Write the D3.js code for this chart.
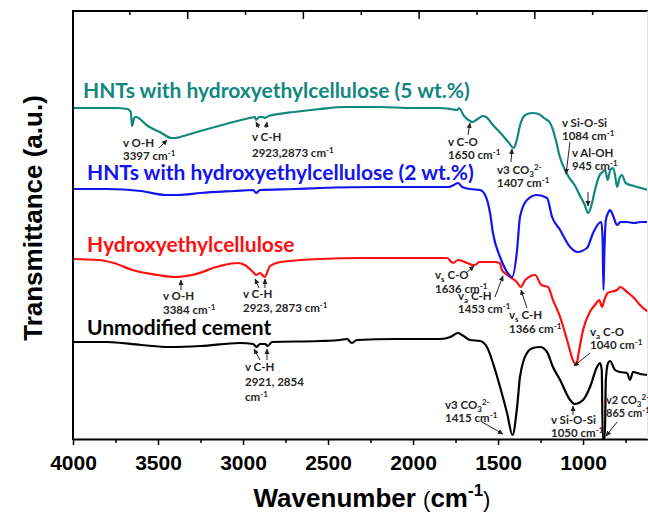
<!DOCTYPE html>
<html>
<head>
<meta charset="utf-8">
<script src="https://cdn.jsdelivr.net/npm/d3@7"></script>
<style>
body { margin: 0; background: #fff; }
svg { display: block; }
.ann { font-family: Lato, "Open Sans", sans-serif; font-weight: bold; font-size: 11.5px; fill: #262626; }
.tick text { font-family: "Liberation Sans", Arial, sans-serif; font-weight: bold; font-size: 21px; fill: #000; }
</style>
</head>
<body>
<div id="chart"></div>
<script>
// FTIR spectra, wavenumber (cm-1) vs transmittance (a.u., offset curves)
var cementWn = [4000,3800,3600,3430,3250,3018,2940,2921,2900,2870,2854,2830,2547,2430,2388,2360,2330,2100,1841,1780,1735,1712,1694,1665,1606,1565,1530,1488,1447,1415,1388,1371,1330,1294,1253,1212,1177,1135,1076,1050,1000,959,918,900,890,884,872,866,853,841,812,782,741,724,706,665,618];
var cementT  = [97,97,94,92,93,96,95,92,95,95,93,97,98,99,100,96,99,100,100,102,106,104,102,99,98,92,76,52,26,4,32,62,86,91,92,87,72,59,39,35,39,52,72,76,69,0,0,59,76,78,69,67,66,59,67,65,64];

var hecWn = [4000,3850,3760,3650,3500,3400,3300,3135,3030,2990,2941,2923,2900,2873,2841,2780,2547,2300,2000,1800,1765,1735,1680,1650,1636,1610,1588,1518,1490,1477,1453,1420,1390,1366,1340,1282,1245,1206,1177,1135,1094,1060,1040,1025,1000,960,930,905,888,875,855,800,782,741,700,665,618];
var hecT  = [180,179,176,169,164,162,164,173,176,174,167,164,166,162,173,177,180,181,181,181,176,179,176,174,174,177,177,177,176,169,165,161,157,152,159,164,154,152,139,122,99,79,74,87,109,127,134,139,132,139,146,149,152,147,141,134,127];

var hnt2Wn = [4000,3800,3600,3450,3380,3250,3050,2940,2923,2900,2700,2547,2200,1900,1790,1760,1735,1710,1665,1606,1576,1547,1530,1488,1447,1418,1388,1371,1330,1271,1212,1182,1135,1076,1035,977,941,905,892,885,880,875,866,850,841,825,800,780,741,700,660,618];
var hnt2T  = [250,250,248,244,244,246,248,249,246,249,250,251,252,252,252,254,256,252,250,249,244,226,206,182,167,162,189,222,239,244,241,222,209,192,187,191,206,216,217,199,149,184,219,227,229,224,214,217,217,216,217,217];

var hnt5Wn = [4000,3900,3750,3680,3660,3653,3640,3630,3560,3480,3420,3397,3350,3250,3100,2960,2930,2923,2905,2880,2873,2850,2700,2547,2400,2200,2000,1850,1780,1740,1730,1700,1665,1650,1620,1590,1570,1530,1480,1440,1407,1390,1370,1340,1300,1260,1230,1194,1160,1140,1100,1084,1050,1020,990,970,950,930,905,885,870,855,840,824,812,800,785,771,750,700,660,618];
var hnt5T  = [331,331,331,330,327,313,321,322,313,306,301,301,303,308,315,321,322,319,322,322,321,323,327,330,332,332,331,331,330,329,331,323,318,317,320,323,322,314,305,297,291,299,314,324,326,325,321,316,299,284,267,262,254,244,234,226,234,249,263,267,269,259,269,271,264,252,261,264,256,253,251,249];

var seriesNames  = ["Unmodified cement", "Hydroxyethylcellulose", "HNTs with hydroxyethylcellulose (2 wt.%)", "HNTs with hydroxyethylcellulose (5 wt.%)"];
var seriesColors = ["#000000", "#ff1010", "#1414ee", "#12877e"];

var majorTicks = [4000,3500,3000,2500,2000,1500,1000];
var minorTicks = [3750,3250,2750,2250,1750,1250,750];
var topMajor = [0.2,0.4,0.6,0.8];
var topMinor = [0.1,0.3,0.5,0.7,0.9];

var series = [
  {name: seriesNames[0], color: seriesColors[0], wn: cementWn, t: cementT},
  {name: seriesNames[1], color: seriesColors[1], wn: hecWn, t: hecT},
  {name: seriesNames[2], color: seriesColors[2], wn: hnt2Wn, t: hnt2T},
  {name: seriesNames[3], color: seriesColors[3], wn: hnt5Wn, t: hnt5T}
];

var width = 648, height = 515;
var margin = {top: 11, right: 0, bottom: 76, left: 73};

var svg = d3.select("#chart").append("svg")
    .attr("width", width)
    .attr("height", height);

var x = d3.scaleLinear().domain([4000, 618]).range([margin.left, width - margin.right]);
var xTop = d3.scaleLinear().domain([0, 1]).range([71.5, 650]);
var y = d3.scaleLinear().domain([0, 428]).range([height - margin.bottom, margin.top]);

var defs = svg.append("defs");
defs.append("marker")
    .attr("id", "arr")
    .attr("markerUnits", "userSpaceOnUse")
    .attr("markerWidth", 6).attr("markerHeight", 6)
    .attr("refX", 5).attr("refY", 3)
    .attr("orient", "auto")
  .append("path")
    .attr("d", "M0,0.5L5.5,3L0,5.5z")
    .attr("fill", "#222");

// spectra
var line = d3.line()
    .x(function(d) { return x(d[0]); })
    .y(function(d) { return y(d[1]); })
    .curve(d3.curveMonotoneX);

series.forEach(function(s) {
  var pts = s.wn.map(function(w, i) { return [w, s.t[i]]; });
  svg.append("path")
      .datum(pts)
      .attr("fill", "none")
      .attr("stroke", s.color)
      .attr("stroke-width", 2.2)
      .attr("stroke-linejoin", "round")
      .attr("d", line);
});

// axes
var yb = height - margin.bottom;
var gx = svg.append("g").attr("transform", "translate(0," + yb + ")");
gx.call(d3.axisBottom(x).tickValues(majorTicks).tickSize(6).tickSizeOuter(0).tickPadding(10).tickFormat(d3.format("d")));
gx.select(".domain").attr("stroke-width", 2);
gx.selectAll(".tick line").attr("stroke-width", 1.5);

var gxm = svg.append("g").attr("transform", "translate(0," + yb + ")");
gxm.call(d3.axisBottom(x).tickValues(minorTicks).tickSize(4).tickFormat(""));
gxm.select(".domain").remove();
gxm.selectAll(".tick line").attr("stroke-width", 1.5);

var gt = svg.append("g").attr("transform", "translate(0," + margin.top + ")");
gt.call(d3.axisTop(xTop).tickValues(topMajor).tickSize(-8).tickFormat(""));
gt.select(".domain").remove();
gt.selectAll(".tick line").attr("stroke-width", 1.5);
var gtm = svg.append("g").attr("transform", "translate(0," + margin.top + ")");
gtm.call(d3.axisTop(xTop).tickValues(topMinor).tickSize(-4).tickFormat(""));
gtm.select(".domain").remove();
gtm.selectAll(".tick line").attr("stroke-width", 1.5);

svg.append("line")
    .attr("x1", margin.left).attr("x2", width)
    .attr("y1", margin.top).attr("y2", margin.top)
    .attr("stroke", "#000").attr("stroke-width", 2);
svg.append("line")
    .attr("x1", margin.left).attr("x2", margin.left)
    .attr("y1", margin.top - 1).attr("y2", yb + 1)
    .attr("stroke", "#000").attr("stroke-width", 2);
svg.append("line")
    .attr("x1", width - 0.5).attr("x2", width - 0.5)
    .attr("y1", margin.top).attr("y2", yb)
    .attr("stroke", "#e4e4e4").attr("stroke-width", 1);

// axis titles
svg.append("text")
    .attr("transform", "translate(42,218) rotate(-90)")
    .attr("text-anchor", "middle")
    .style("font-family", "'Liberation Sans', Arial, sans-serif")
    .style("font-weight", "bold")
    .style("font-size", "26px")
    .text("Transmittance (a.u.)");

var xt = svg.append("text")
    .attr("x", 372).attr("y", 507)
    .attr("text-anchor", "middle")
    .style("font-family", "'Liberation Sans', Arial, sans-serif")
    .style("font-weight", "bold")
    .style("font-size", "26px");
xt.append("tspan").text("Wavenumber ");
xt.append("tspan").style("font-weight", "normal").style("font-size", "22px").text("(");
xt.append("tspan").text("cm");
xt.append("tspan").attr("dy", -11).style("font-size", "17px").text("-1");
xt.append("tspan").attr("dy", 11).style("font-weight", "normal").style("font-size", "22px").text(")");

// series labels
var labelPos = [[87, 335], [87, 252], [87, 180], [83, 98]];
series.forEach(function(s, i) {
  svg.append("text")
      .attr("x", labelPos[i][0]).attr("y", labelPos[i][1])
      .style("font-family", "Lato, 'Open Sans', sans-serif")
      .style("font-weight", "bold")
      .style("font-size", "21px")
      .attr("fill", s.color)
      .text(s.name);
});

// band annotations: text lines at (x, baseline), arrows in data units [wn, T]
var notes = [
  {x: 123, y: 147, dy: 13, lines: ["v O-H", "3397 cm^{-1}"], arrows: [[[3494,291],[3447,299]]]},
  {x: 252, y: 141, dy: 16, lines: ["v C-H", "2923,2873 cm^{-1}"], arrows: [[[2906,311],[2924,317]], [[2865,311],[2859,317]]]},
  {x: 448, y: 146, dy: 13, lines: ["v C-O", "1650 cm^{-1}"], arrows: [[[1677,304],[1665,316]]]},
  {x: 497, y: 174, dy: 13, lines: ["v3 CO_{3}^{2-}", "1407 cm^{-1}"], arrows: [[[1424,277],[1418,290]]]},
  {x: 562, y: 127, dy: 13, lines: ["v Si-O-Si", "1084 cm^{-1}"], arrows: [[[1077,297],[1100,265]]]},
  {x: 572, y: 157, dy: 13, lines: ["v Al-OH", "945 cm^{-1}"], arrows: [[[971,247],[971,233]]]},
  {x: 163, y: 300, dy: 14, lines: ["v O-H", "3384 cm^{-1}"], arrows: [[[3365,149],[3365,159]]]},
  {x: 243, y: 298, dy: 14, lines: ["v C-H", "2923, 2873 cm^{-1}"], arrows: [[[2906,151],[2929,160]], [[2871,151],[2871,160]]]},
  {x: 435, y: 279, dy: 14, lines: ["v_{s} C-O", "1636 cm^{-1}"], arrows: [[[1682,167],[1641,173]]]},
  {x: 458, y: 300, dy: 13, lines: ["v_{a} C-H", "1453 cm^{-1}"], arrows: [[[1518,142],[1471,163]]]},
  {x: 509, y: 319, dy: 14, lines: ["v_{s} C-H", "1366 cm^{-1}"], arrows: [[[1330,131],[1365,149]]]},
  {x: 590, y: 336, dy: 13, lines: ["v_{a} C-O", "1040 cm^{-1}"], arrows: [[[959,86],[1053,73]]]},
  {x: 245, y: 371, dy: 15, lines: ["v C-H", "2921, 2854", "cm^{-1}"], arrows: [[[2900,79],[2935,90]], [[2859,79],[2859,90]]]},
  {x: 445, y: 409, dy: 13, lines: ["v3 CO_{3}^{2-}", "1415 cm^{-1}"], arrows: [[[1594,17],[1471,5]]]},
  {x: 551, y: 424, dy: 13, lines: ["v Si-O-Si", "1050 cm^{-1}"], arrows: [[[1059,24],[1059,33]]]},
  {x: 606, y: 404, dy: 13, lines: ["v2 CO_{3}^{2-}", "865 cm^{-1}"], arrows: [[[800,17],[865,3]]]}
];

function richText(sel, str) {
  var parts = str.split(/(\^\{[^}]*\}|_\{[^}]*\})/);
  var shift = 0;
  parts.forEach(function(p) {
    if (!p) return;
    var target = 0, txt = p, small = false;
    if (p[0] === "^") { target = -4; txt = p.slice(2, -1); small = true; }
    else if (p[0] === "_") { target = 3; txt = p.slice(2, -1); small = true; }
    var ts = sel.append("tspan").attr("dy", target - shift).text(txt);
    if (small) ts.style("font-size", "8px");
    shift = target;
  });
}

var ann = svg.append("g");
notes.forEach(function(n) {
  n.lines.forEach(function(l, i) {
    var t = ann.append("text").attr("class", "ann").attr("x", n.x).attr("y", n.y + i * n.dy);
    if (n.x > 600) t.style("font-size", "11px");
    richText(t, l);
  });
  n.arrows.forEach(function(a) {
    ann.append("line")
        .attr("x1", x(a[0][0])).attr("y1", y(a[0][1]))
        .attr("x2", x(a[1][0])).attr("y2", y(a[1][1]))
        .attr("stroke", "#222").attr("stroke-width", 1)
        .attr("marker-end", "url(#arr)");
  });
});
</script>
</body>
</html>
